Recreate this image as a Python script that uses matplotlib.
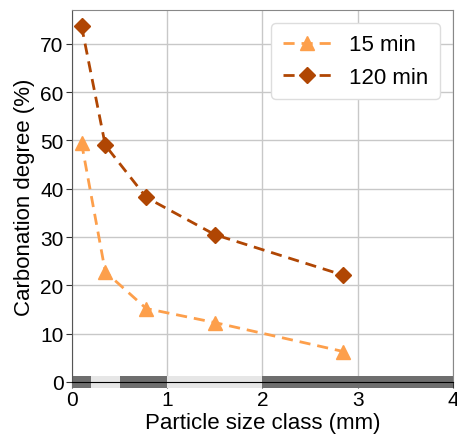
import matplotlib
matplotlib.use("Agg")
import matplotlib.pyplot as plt

# Particle size classes (mm) shown as a strip along y=0
class_edges = [0.0, 0.2, 0.5, 1.0, 2.0, 4.0]
class_shade = ["dark", "light", "dark", "light", "dark"]

# Representative size per class and carbonation degree (%)
size_mm = [0.1, 0.35, 0.78, 1.5, 2.85]
carb_15 = [49.5, 22.8, 15.2, 12.3, 6.3]
carb_120 = [73.7, 49.0, 38.2, 30.5, 22.1]
labels = ["15 min", "120 min"]

plt.rcParams["font.family"] = ["Liberation Sans", "DejaVu Sans"]

fig = plt.figure(figsize=(4.57, 4.39), dpi=100)
ax = fig.add_axes([0.1575, 0.1276, 0.8335, 0.8474])

ax.grid(True, color="#c8c8c8", linewidth=1.0, zorder=0)
ax.set_axisbelow(True)

# class strip, drawn below the axis line (not clipped)
ax.barh(0, class_edges[-1] - class_edges[0], left=class_edges[0], height=2.3,
        color="#e6e6e6", clip_on=False, zorder=1)
for lo, hi, shade in zip(class_edges[:-1], class_edges[1:], class_shade):
    if shade == "dark":
        ax.barh(0, hi - lo, left=lo, height=2.3, color="#6e6e6e",
                clip_on=False, zorder=2)

ax.plot(size_mm, carb_15, linestyle=(0, (4, 2.5)), marker="^", color="#fd9f4b",
        linewidth=2, markersize=10, label=labels[0], zorder=4)
ax.plot(size_mm, carb_120, linestyle=(0, (4, 2.5)), marker="D", color="#b04603",
        linewidth=2, markersize=8.5, label=labels[1], zorder=4)

ax.set_xlim(0, 4)
ax.set_ylim(0, 77)
ax.set_xticks([0, 1, 2, 3, 4])
ax.set_yticks([0, 10, 20, 30, 40, 50, 60, 70])
ax.tick_params(labelsize=15, length=4, color="#333333", pad=2)
ax.set_xlabel("Particle size class (mm)", fontsize=16, labelpad=2)
ax.set_ylabel("Carbonation degree (%)", fontsize=16, labelpad=4)

for side in ("top", "right"):
    ax.spines[side].set_color("#888888")
ax.spines["left"].set_color("#555555")
ax.spines["bottom"].set_color("black")
ax.spines["bottom"].set_zorder(5)

leg = ax.legend(loc="upper right", fontsize=16, handlelength=2.2,
                borderpad=0.5, labelspacing=0.5, framealpha=1.0,
                edgecolor="#dddddd", borderaxespad=0.6)

fig.savefig("out.png", dpi=100)
